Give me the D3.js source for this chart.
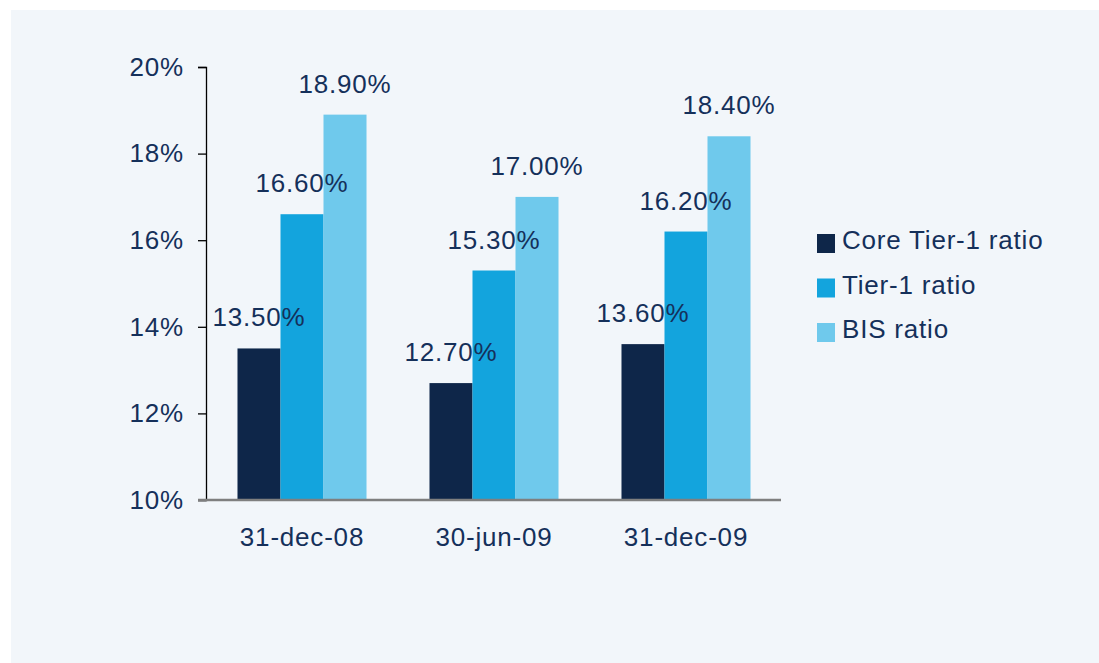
<!DOCTYPE html>
<html><head><meta charset="utf-8">
<script src="https://cdn.jsdelivr.net/npm/d3@7"></script>
<style>
html,body{margin:0;padding:0;background:#ffffff;}
svg{display:block;}
text{font-family:"Liberation Sans",Arial,sans-serif;letter-spacing:0.8px;}
</style></head>
<body>
<svg id="chart" width="1099" height="663"></svg>
<script>
const categories = ["31-dec-08", "30-jun-09", "31-dec-09"];
const seriesNames = ["Core Tier-1 ratio", "Tier-1 ratio", "BIS ratio"];
const coreTier1 = [13.5, 12.7, 13.6];
const tier1 = [16.6, 15.3, 16.2];
const bis = [18.9, 17.0, 18.4];
const yTicks = [10, 12, 14, 16, 18, 20];
const colors = ["#0e2649", "#13a4dd", "#6fc9ec"];
const textColor = "#15305a";
const fs = 26;

const seriesValues = [coreTier1, tier1, bis];
const svg = d3.select("#chart");

svg.append("rect").attr("x", 11).attr("y", 10).attr("width", 1088).attr("height", 653).attr("fill", "#f2f6fa");

const y = d3.scaleLinear().domain([10, 20]).range([500, 67]);
const x0 = d3.scaleBand().domain(categories).range([206, 782]).paddingInner(0.328).paddingOuter(0.164);
const x1 = d3.scaleBand().domain(seriesNames).range([0, x0.bandwidth()]);

// bars
const groups = svg.append("g").selectAll("g").data(categories).join("g")
  .attr("transform", d => `translate(${x0(d)},0)`);
groups.each(function(cat, ci) {
  const g = d3.select(this);
  seriesNames.forEach((s, si) => {
    const v = seriesValues[si][ci];
    g.append("rect").attr("x", x1(s)).attr("y", y(v))
      .attr("width", x1.bandwidth()).attr("height", y(10) - y(v))
      .attr("fill", colors[si]);
  });
});
// labels
groups.each(function(cat, ci) {
  const g = d3.select(this);
  seriesNames.forEach((s, si) => {
    const v = seriesValues[si][ci];
    g.append("text").attr("x", x1(s) + x1.bandwidth() / 2).attr("y", y(v) - 22)
      .attr("text-anchor", "middle").attr("font-size", fs).attr("fill", textColor)
      .text(v.toFixed(2) + "%");
  });
});

// y axis
const yAxis = d3.axisLeft(y).tickValues(yTicks).tickFormat(d => d + "%").tickSize(8).tickPadding(14);
const ya = svg.append("g").attr("transform", "translate(206,0)").call(yAxis);
ya.select(".domain").attr("stroke", "#000").attr("stroke-width", 1.3);
ya.selectAll(".tick line").attr("stroke", "#000").attr("stroke-width", 1.3);
ya.selectAll(".tick text").attr("font-size", fs).attr("fill", textColor).attr("font-family", "Liberation Sans, Arial, sans-serif");

// x axis
const xAxis = d3.axisBottom(x0).tickSize(0).tickPadding(28);
const xa = svg.append("g").attr("transform", "translate(0,500)").call(xAxis);
xa.select(".domain").attr("d", "M198,0H781").attr("stroke", "#7f7f7f").attr("stroke-width", 2.5);
xa.selectAll(".tick text").attr("font-size", fs).attr("fill", textColor).attr("font-family", "Liberation Sans, Arial, sans-serif");

// legend
const legend = svg.append("g").selectAll("g").data(seriesNames).join("g")
  .attr("transform", (d, i) => `translate(817,${248 + i * 44.5})`);
legend.append("rect").attr("x", 0).attr("y", -14).attr("width", 18).attr("height", 19).attr("fill", (d, i) => colors[i]);
legend.append("text").attr("x", 25).attr("y", 1).attr("font-size", fs).attr("fill", textColor).text(d => d);
</script>
</body></html>
